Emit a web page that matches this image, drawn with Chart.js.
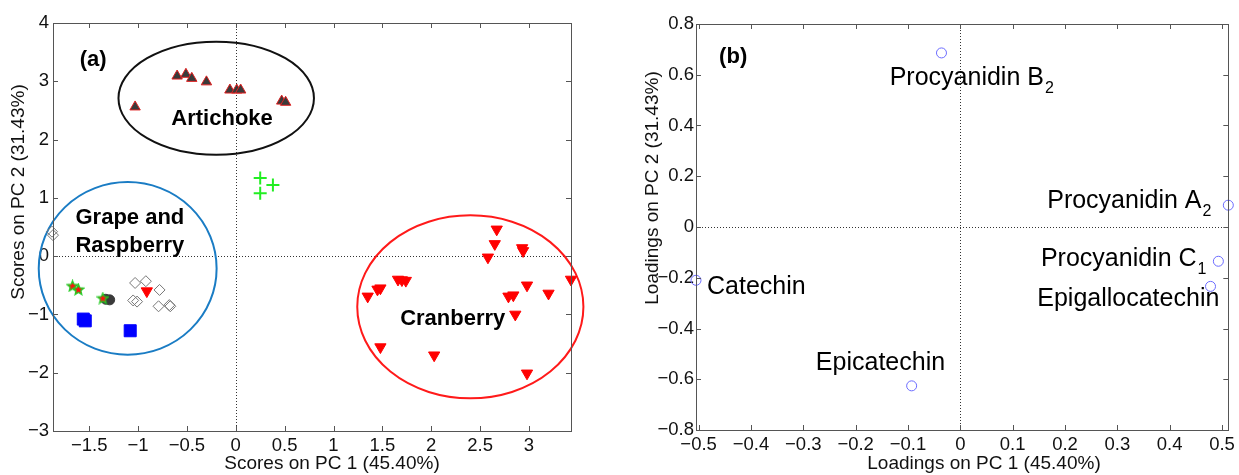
<!DOCTYPE html>
<html>
<head>
<meta charset="utf-8">
<script src="https://cdn.jsdelivr.net/npm/chart.js@4.4.1/dist/chart.umd.min.js"></script>
<style>
    html, body { margin: 0; padding: 0; background: #fff; }
    #scores { position: absolute; left: 0; top: 0; }
    #loadings { position: absolute; left: 600px; top: 0; }
</style>
</head>
<body>
<canvas id="scores" width="600" height="475"></canvas>
<canvas id="loadings" width="639" height="475"></canvas>
<script>
// ---- (a) scores ----
const artichokeX = [-1.03, -0.60, -0.51, -0.45, -0.30, -0.06, 0.01, 0.05, 0.47, 0.51];
const artichokeY = [2.56, 3.09, 3.12, 3.05, 2.99, 2.85, 2.85, 2.85, 2.66, 2.64];
const plusX = [0.25, 0.38, 0.25];
const plusY = [1.34, 1.22, 1.08];
const diamondX = [-1.88, -1.87, -1.03, -0.92, -0.78, -1.05, -1.01, -0.79, -0.68, -0.67];
const diamondY = [0.42, 0.36, -0.46, -0.43, -0.58, -0.76, -0.78, -0.86, -0.84, -0.86];
const circleX = [-1.33, -1.29];
const circleY = [-0.74, -0.75];
const starX = [-1.67, -1.61, -1.36];
const starY = [-0.51, -0.57, -0.72];
const squareX = [-1.56, -1.54, -1.08];
const squareY = [-1.08, -1.11, -1.28];
const cranberryX = [-0.91, 2.67, 2.65, 2.58, 2.93, 2.94, 3.43, 2.98, 3.20, 2.79, 2.84, 2.86, 2.98, 2.03, 1.48, 1.35, 1.45, 1.48, 1.66, 1.70, 1.74];
const cranberryY = [-0.60, 0.46, 0.21, -0.02, 0.14, 0.09, -0.40, -0.50, -0.64, -0.69, -0.67, -1.00, -2.01, -1.70, -1.56, -0.69, -0.57, -0.55, -0.40, -0.41, -0.42];

const groupCenterX = [-0.20, -1.106, 2.40];
const groupCenterY = [2.71, -0.21, -0.87];
const groupRadiusX = [1.00, 0.91, 1.157];
const groupRadiusY = [0.97, 1.48, 1.57];

const scoreXTicks = [-1.5, -1, -0.5, 0, 0.5, 1, 1.5, 2, 2.5, 3];
const scoreYTicks = [-3, -2, -1, 0, 1, 2, 3, 4];

// ---- (b) loadings ----
const compounds = ["Procyanidin B", "Procyanidin A", "Procyanidin C", "Epigallocatechin", "Catechin", "Epicatechin"];
const compoundSub = ["2", "2", "1", "", "", ""];
const loadPC1 = [-0.036, 0.512, 0.493, 0.478, -0.505, -0.093];
const loadPC2 = [0.686, 0.086, -0.135, -0.234, -0.21, -0.626];

const loadXTicks = [-0.5, -0.4, -0.3, -0.2, -0.1, 0, 0.1, 0.2, 0.3, 0.4, 0.5];
const loadYTicks = [-0.8, -0.6, -0.4, -0.2, 0, 0.2, 0.4, 0.6, 0.8];

const FONT = "'Liberation Sans', Arial, sans-serif";

function pts(xs, ys) {
    return xs.map((x, i) => ({ x: x, y: ys[i] }));
}

function fmt(v) {
    return (v < 0 ? "\u2212" : "") + Math.abs(v);
}

function starImage() {
    const c = document.createElement("canvas");
    c.width = 13;
    c.height = 13;
    const g = c.getContext("2d");
    g.beginPath();
    for (let i = 0; i < 10; i++) {
        const r = i % 2 ? 2.5 : 5.6;
        const a = -Math.PI / 2 + i * Math.PI / 5;
        g.lineTo(6.5 + r * Math.cos(a), 7 + r * Math.sin(a));
    }
    g.closePath();
    g.fillStyle = "#ff1010";
    g.fill();
    g.strokeStyle = "#22cc22";
    g.lineWidth = 1.3;
    g.stroke();
    return c;
}

// frame, inward ticks, dotted zero lines, ellipses, text notes, axis titles
const boxPlugin = {
    id: "box",
    beforeDatasetsDraw(chart, args, opts) {
        const { ctx, chartArea: a, scales: { x, y } } = chart;
        ctx.save();
        ctx.strokeStyle = "#333";
        ctx.lineWidth = 1;
        ctx.setLineDash([1, 2]);
        const x0 = Math.round(x.getPixelForValue(0)) + 0.5;
        const y0 = Math.round(y.getPixelForValue(0)) + 0.5;
        ctx.beginPath();
        ctx.moveTo(x0, a.top);
        ctx.lineTo(x0, a.bottom);
        ctx.moveTo(a.left, y0);
        ctx.lineTo(a.right, y0);
        ctx.stroke();
        ctx.setLineDash([]);

        (opts.ellipses || []).forEach(e => {
            const cx = x.getPixelForValue(e.cx);
            const cy = y.getPixelForValue(e.cy);
            const rx = Math.abs(x.getPixelForValue(e.cx + e.rx) - cx);
            const ry = Math.abs(y.getPixelForValue(e.cy + e.ry) - cy);
            ctx.beginPath();
            ctx.ellipse(cx, cy, rx, ry, 0, 0, Math.PI * 2);
            ctx.strokeStyle = e.color;
            ctx.lineWidth = 2;
            ctx.stroke();
        });
        ctx.restore();
    },
    afterDatasetsDraw(chart, args, opts) {
        const { ctx, chartArea: a, scales: { x, y } } = chart;
        ctx.save();
        ctx.strokeStyle = "#555";
        ctx.lineWidth = 1;
        ctx.strokeRect(Math.round(a.left) + 0.5, Math.round(a.top) + 0.5,
            Math.round(a.right - a.left), Math.round(a.bottom - a.top));
        ctx.beginPath();
        x.ticks.forEach(t => {
            const px = Math.round(x.getPixelForValue(t.value)) + 0.5;
            ctx.moveTo(px, a.bottom);
            ctx.lineTo(px, a.bottom - 5);
            ctx.moveTo(px, a.top);
            ctx.lineTo(px, a.top + 5);
        });
        y.ticks.forEach(t => {
            const py = Math.round(y.getPixelForValue(t.value)) + 0.5;
            ctx.moveTo(a.left, py);
            ctx.lineTo(a.left + 5, py);
            ctx.moveTo(a.right, py);
            ctx.lineTo(a.right - 5, py);
        });
        ctx.stroke();

        ctx.fillStyle = "#000";
        (opts.notes || []).forEach(n => {
            const px = x.getPixelForValue(n.x);
            const py = y.getPixelForValue(n.y);
            ctx.font = n.font;
            ctx.textBaseline = "middle";
            ctx.textAlign = n.align || "left";
            ctx.fillText(n.text, px, py);
            if (n.sub) {
                const w = ctx.measureText(n.text).width;
                const left = n.align === "center" ? px + w / 2 : px + w;
                ctx.font = "16px " + FONT;
                ctx.textAlign = "left";
                ctx.textBaseline = "alphabetic";
                ctx.fillText(n.sub, left + 1, py + 15);
            }
        });

        // axis titles, placed like the original figure
        ctx.fillStyle = "#111";
        ctx.font = "19px " + FONT;
        ctx.textAlign = "center";
        ctx.textBaseline = "middle";
        const t = opts.titles;
        ctx.fillText(t.x, t.xPos[0], t.xPos[1]);
        ctx.translate(t.yPos[0], t.yPos[1]);
        ctx.rotate(-Math.PI / 2);
        ctx.fillText(t.y, 0, 0);
        ctx.restore();
    }
};

function axis(min, max, tickValues, size) {
    return {
        type: "linear",
        min: min,
        max: max,
        grid: { display: false, drawTicks: false },
        border: { display: false },
        afterBuildTicks: s => { s.ticks = tickValues.map(v => ({ value: v })); },
        ticks: {
            callback: v => fmt(v),
            color: "#111",
            autoSkip: false,
            maxRotation: 0,
            padding: size.pad,
            font: { size: 18.5, family: FONT }
        },
        title: { display: false },
        afterFit: s => {
            if (s.isHorizontal()) s.height = size.h; else s.width = size.w;
        }
    };
}

function baseOptions(pad, xAxis, yAxis, box) {
    return {
        responsive: false,
        animation: false,
        layout: { padding: pad },
        plugins: { legend: { display: false }, tooltip: { enabled: false }, box: box },
        scales: { x: xAxis, y: yAxis }
    };
}

const bold22 = "bold 22px " + FONT;
const norm25 = "25px " + FONT;

new Chart(document.getElementById("scores"), {
    type: "scatter",
    data: {
        datasets: [
            { data: pts(starX, starY), pointStyle: starImage(), pointRadius: 6, clip: false },
            { data: pts(cranberryX, cranberryY), pointStyle: "triangle", pointRotation: 180, pointRadius: 6.5,
              pointBackgroundColor: "#ff0000", pointBorderColor: "#ff0000", pointBorderWidth: 1, clip: false },
            { data: pts(circleX, circleY), pointStyle: "circle", pointRadius: 5,
              pointBackgroundColor: "#3a3a3a", pointBorderColor: "#3a3a3a", pointBorderWidth: 1, clip: false },
            { data: pts(squareX, squareY), pointStyle: "rect", pointRadius: 8.5,
              pointBackgroundColor: "#0000ff", pointBorderColor: "#0000ff", pointBorderWidth: 1, clip: false },
            { data: pts(diamondX, diamondY), pointStyle: "rectRot", pointRadius: 5.5,
              pointBackgroundColor: "rgba(255,255,255,0)", pointBorderColor: "#777", pointBorderWidth: 1, clip: false },
            { data: pts(plusX, plusY), pointStyle: "cross", pointRadius: 6.5,
              pointBorderColor: "#22ee22", pointBorderWidth: 2, clip: false },
            { data: pts(artichokeX, artichokeY), pointStyle: "triangle", pointRadius: 6,
              pointBackgroundColor: "#3a3a3a", pointBorderColor: "#e02020", pointBorderWidth: 1, clip: false }
        ]
    },
    options: baseOptions(
        { top: 23, right: 29, left: 0, bottom: 0 },
        axis(-1.87, 3.43, scoreXTicks, { h: 44, pad: 4 }),
        axis(-3, 4, scoreYTicks, { w: 53, pad: 4 }),
        {
            ellipses: groupCenterX.map((cx, i) => ({
                cx: cx, cy: groupCenterY[i], rx: groupRadiusX[i], ry: groupRadiusY[i],
                color: ["#111111", "#1a7cc4", "#ff1a1a"][i]
            })),
            notes: [
                { text: "(a)", x: -1.46, y: 3.36, font: bold22, align: "center" },
                { text: "Artichoke", x: -0.14, y: 2.35, font: bold22, align: "center" },
                { text: "Grape and", x: -1.64, y: 0.65, font: bold22 },
                { text: "Raspberry", x: -1.64, y: 0.17, font: bold22 },
                { text: "Cranberry", x: 2.22, y: -1.08, font: bold22, align: "center" }
            ],
            titles: { x: "Scores on PC 1 (45.40%)", xPos: [332, 464], y: "Scores on PC 2 (31.43%)", yPos: [19, 192] }
        }
    ),
    plugins: [boxPlugin]
});

const loadLabelX = [-0.135, 0.166, 0.154, 0.147, -0.484, -0.276];
const loadLabelY = [0.588, 0.102, -0.127, -0.285, -0.238, -0.535];

new Chart(document.getElementById("loadings"), {
    type: "scatter",
    data: {
        labels: compounds,
        datasets: [
            { data: pts(loadPC1, loadPC2), pointStyle: "circle", pointRadius: 5,
              pointBackgroundColor: "rgba(255,255,255,0)", pointBorderColor: "#6b6bff", pointBorderWidth: 1, clip: false }
        ]
    },
    options: baseOptions(
        { top: 24, right: 9, left: 0, bottom: 0 },
        axis(-0.505, 0.512, loadXTicks, { h: 45, pad: 4 }),
        axis(-0.8, 0.8, loadYTicks, { w: 96, pad: 2 }),
        {
            notes: [{ text: "(b)", x: -0.434, y: 0.67, font: bold22, align: "center" }].concat(
                compounds.map((c, i) => ({
                    text: c, sub: compoundSub[i], x: loadLabelX[i], y: loadLabelY[i], font: norm25
                }))
            ),
            titles: { x: "Loadings on PC 1 (45.40%)", xPos: [384, 464], y: "Loadings on PC 2 (31.43%)", yPos: [53, 188] }
        }
    ),
    plugins: [boxPlugin]
});
</script>
</body>
</html>
